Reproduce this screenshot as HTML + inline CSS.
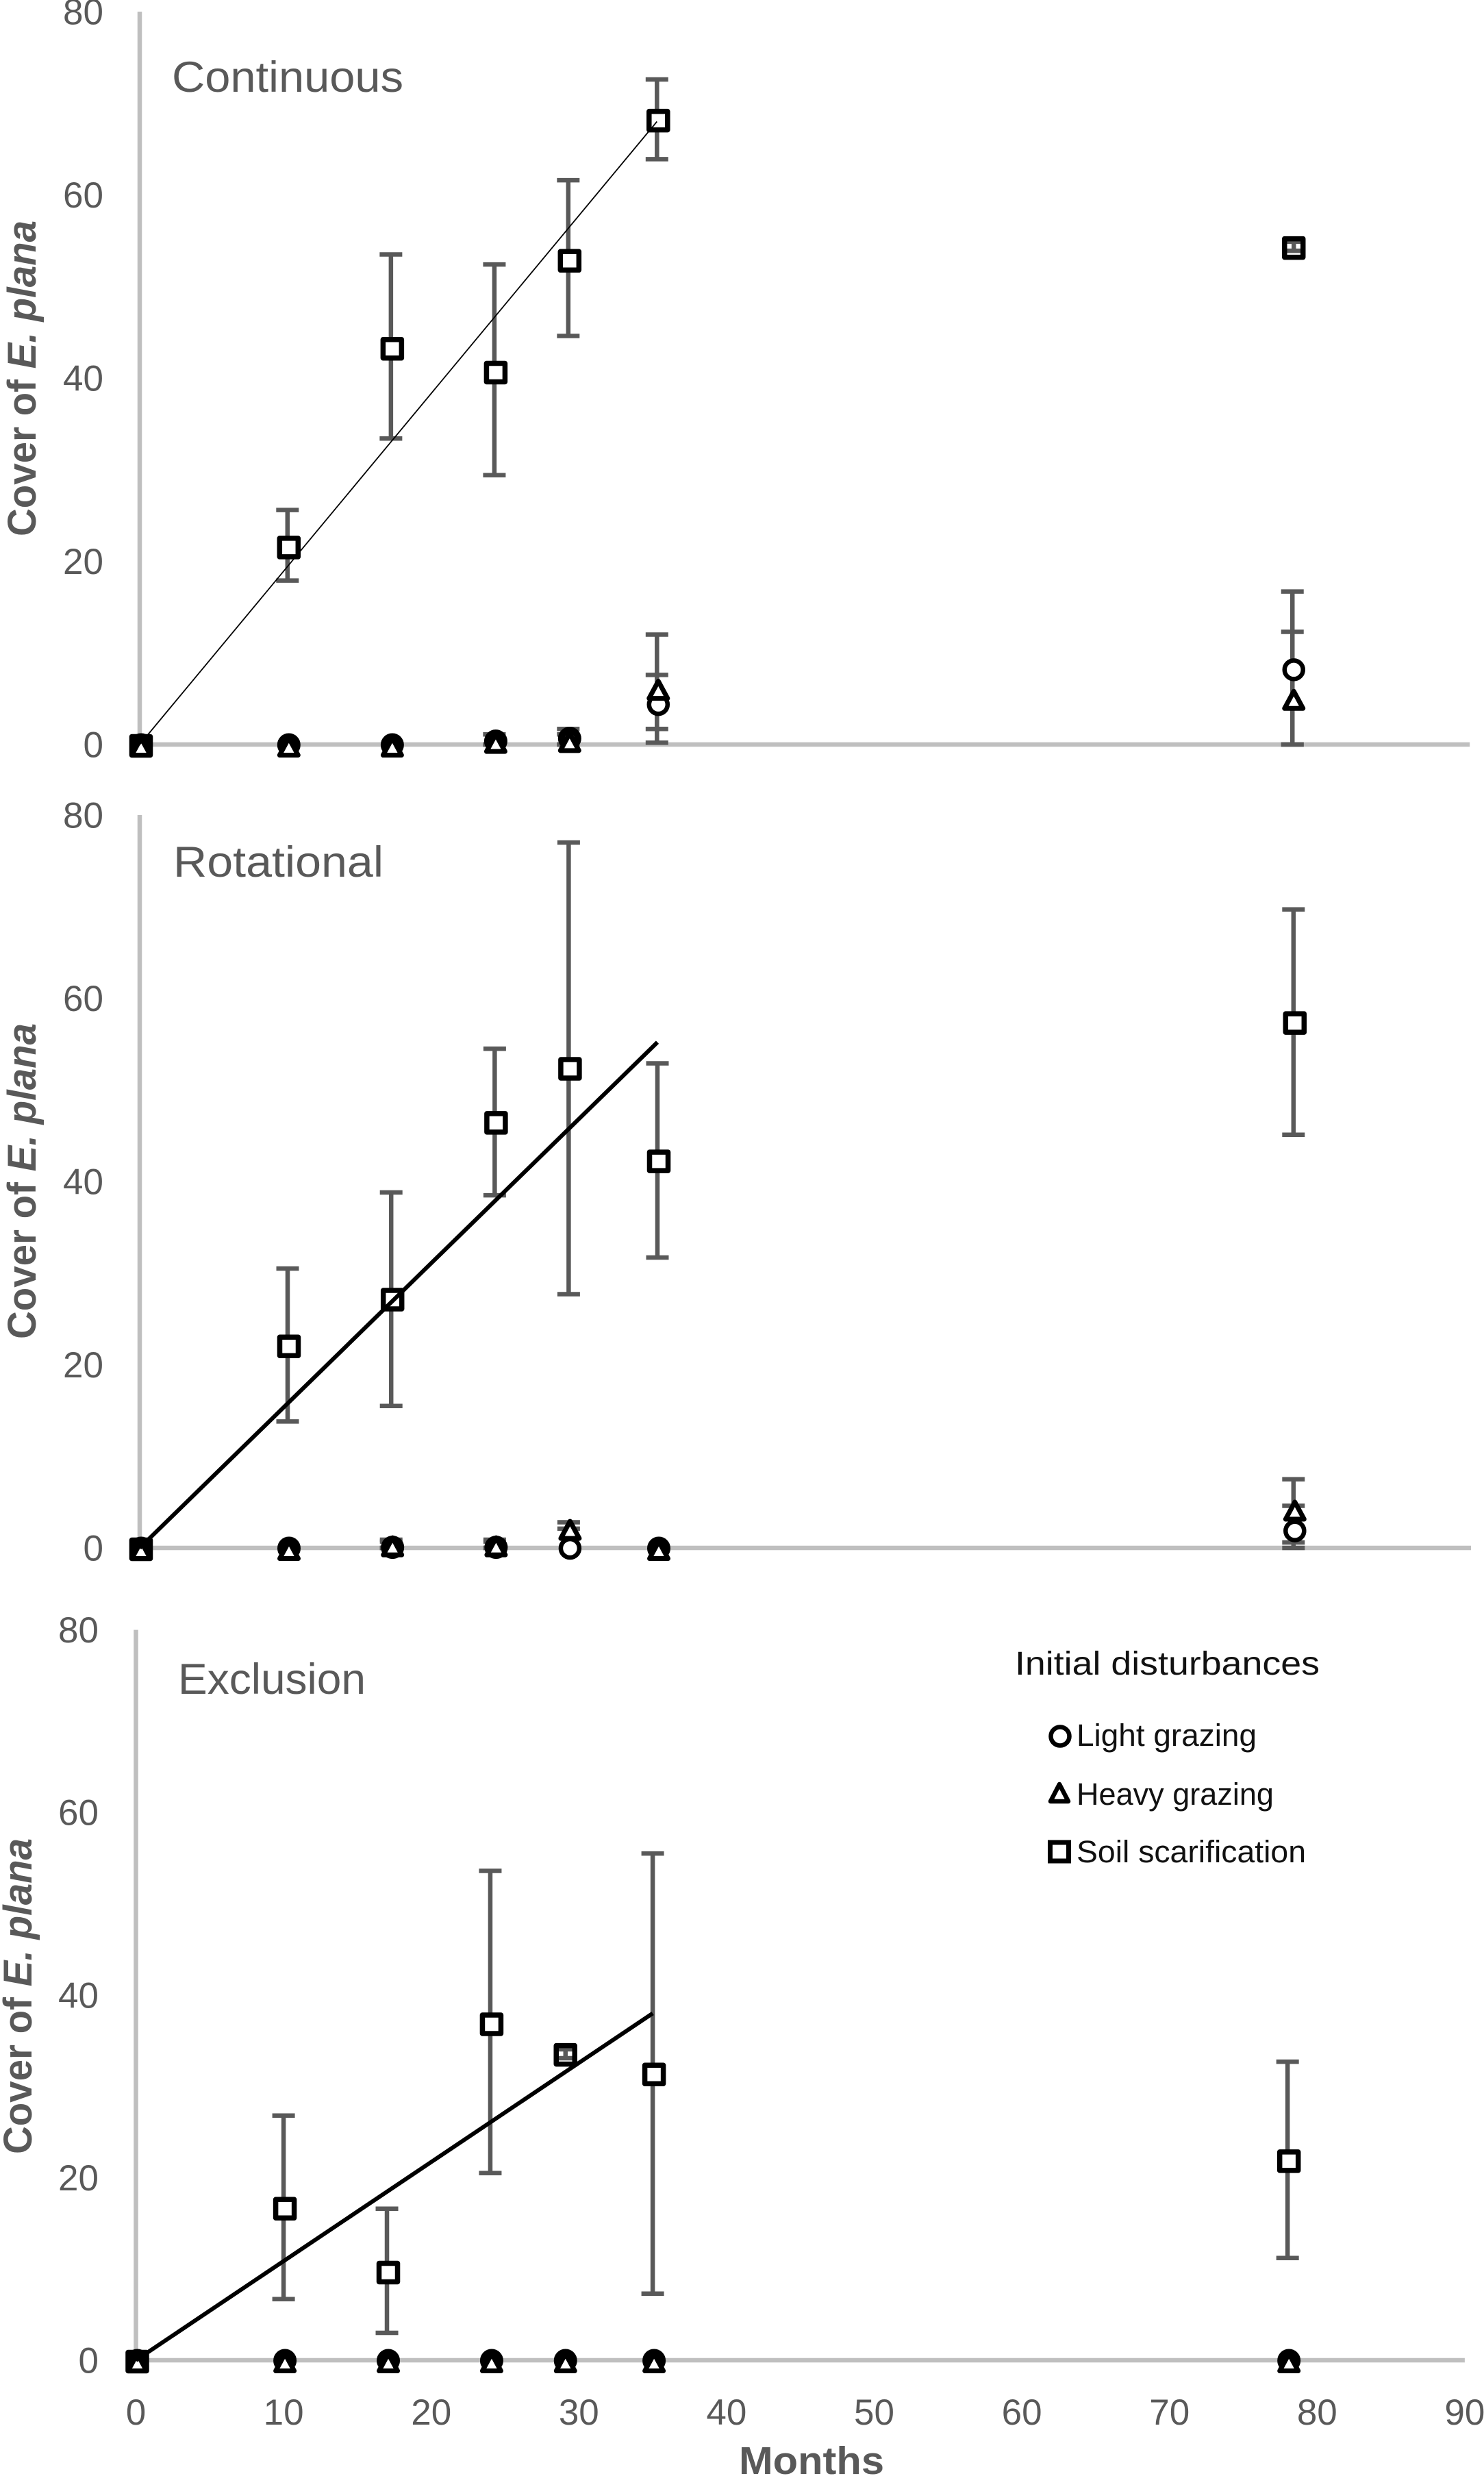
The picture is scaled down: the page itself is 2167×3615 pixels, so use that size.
<!DOCTYPE html>
<html lang="en">
<head>
<meta charset="utf-8">
<title>Cover of E. plana over time</title>
<style>
html,body{margin:0;padding:0;background:#fff;}
svg{display:block;}
text{font-family:"Liberation Sans",Arial,sans-serif;}
</style>
</head>
<body>
<svg id="chart" xmlns="http://www.w3.org/2000/svg" width="2167" height="3615" viewBox="0 0 2167 3615">
  <rect x="0" y="0" width="2167" height="3615" fill="#ffffff"/>

  <text x="251" y="134" font-size="63" fill="#595959" textLength="338" lengthAdjust="spacingAndGlyphs">Continuous</text>
  <text x="253" y="1280" font-size="63" fill="#595959" textLength="307" lengthAdjust="spacingAndGlyphs">Rotational</text>
  <text x="260" y="2473" font-size="63" fill="#595959" textLength="274" lengthAdjust="spacingAndGlyphs">Exclusion</text>

  <text transform="translate(52,783) rotate(-90)" font-size="58" font-weight="bold" fill="#595959" textLength="461" lengthAdjust="spacingAndGlyphs">Cover of <tspan font-style="italic">E. plana</tspan></text>
  <text transform="translate(52,1955) rotate(-90)" font-size="58" font-weight="bold" fill="#595959" textLength="461" lengthAdjust="spacingAndGlyphs">Cover of <tspan font-style="italic">E. plana</tspan></text>
  <text transform="translate(46,3145) rotate(-90)" font-size="58" font-weight="bold" fill="#595959" textLength="461" lengthAdjust="spacingAndGlyphs">Cover of <tspan font-style="italic">E. plana</tspan></text>

  <text x="1079" y="3612" font-size="57" font-weight="bold" fill="#595959" textLength="212" lengthAdjust="spacingAndGlyphs">Months</text>

  <g>
    <text x="1482" y="2445" font-size="48" fill="#111111" textLength="445" lengthAdjust="spacingAndGlyphs">Initial disturbances</text>
    <circle cx="1548" cy="2535" r="13.5" fill="#ffffff" stroke="#000000" stroke-width="6.5"/>
    <text x="1572" y="2549" font-size="45" fill="#111111" textLength="263" lengthAdjust="spacingAndGlyphs">Light grazing</text>
    <polygon points="1547,2605 1534,2630 1560,2630" fill="#ffffff" stroke="#000000" stroke-width="6.5" stroke-linejoin="round"/>
    <text x="1572" y="2635" font-size="45" fill="#111111" textLength="288" lengthAdjust="spacingAndGlyphs">Heavy grazing</text>
    <rect x="1533.5" y="2690" width="27" height="27" fill="#ffffff" stroke="#000000" stroke-width="7"/>
    <text x="1572" y="2719" font-size="45" fill="#111111" textLength="335" lengthAdjust="spacingAndGlyphs">Soil scarification</text>
  </g>
</svg>

<script>
// ---- shared axis data ----
const months = [0, 10, 17, 24, 29, 35, 78];
const yTickLabels = [0, 20, 40, 60, 80];
const xTickLabels = [0, 10, 20, 30, 40, 50, 60, 70, 80, 90];
const trendMonths = [0, 35];

// ---- Continuous panel ----
const contScarMean  = [0, 21.65, 43.35, 40.75, 52.95, 68.25, 54.35];
const contScarUpper = [0, 25.6, 53.5, 52.4, 61.6, 72.6, 54.9];
const contScarLower = [0, 17.9, 33.4, 29.4, 44.6, 63.9, 53.9];
const contLightMean  = [0, 0, 0, 0.4, 0.7, 4.4, 8.2];
const contLightUpper = [0, 0, 0, 1.1, 1.7, 7.6, 16.7];
const contLightLower = [0, 0, 0, 0, 0, 1.7, 0];
const contHeavyMean  = [0, 0, 0, 0.4, 0.5, 6.2, 5.1];
const contHeavyUpper = [0, 0, 0, 1.1, 1.1, 12, 12.3];
const contHeavyLower = [0, 0, 0, 0, 0, 0.2, 0];
const contTrend = [0, 68];

// ---- Rotational panel ----
const rotScarMean  = [0, 22.15, 27.25, 46.55, 52.45, 42.35, 57.45];
const rotScarUpper = [0, 30.5, 38.8, 54.5, 77, 52.9, 69.7];
const rotScarLower = [0, 13.8, 15.5, 38.5, 27.7, 31.7, 45.1];
const rotLightMean  = [0, 0, 0.1, 0.1, 0, 0, 1.9];
const rotLightUpper = [0, 0, 0.7, 0.7, 0, 0, 4.6];
const rotLightLower = [0, 0, 0, 0, 0, 0, 0];
const rotHeavyMean  = [0, 0, 0.4, 0.4, 2.2, 0, 4.3];
const rotHeavyUpper = [0, 0, 0.9, 0.9, 2.8, 0, 7.5];
const rotHeavyLower = [0, 0, 0, 0, 2.1, 0, 0.6];
const rotTrend = [0, 55.2];

// ---- Exclusion panel ----
const exclScarMean  = [0, 16.75, 9.75, 36.95, 33.6, 31.45, 21.95];
const exclScarUpper = [0, 26.8, 16.6, 53.6, 34.06, 55.5, 32.7];
const exclScarLower = [0, 6.7, 3.0, 20.5, 33.08, 7.3, 11.2];
const exclLightMean  = [0, 0, 0, 0, 0, 0, 0];
const exclLightUpper = [0, 0, 0, 0, 0, 0, 0];
const exclLightLower = [0, 0, 0, 0, 0, 0, 0];
const exclHeavyMean  = [0, 0, 0, 0, 0, 0, 0];
const exclHeavyUpper = [0, 0, 0, 0, 0, 0, 0];
const exclHeavyLower = [0, 0, 0, 0, 0, 0, 0];
const exclTrend = [0, 38];

const panels = [
  { key:'continuous', x0:204, xUnit:21.58, y0:1087, yUnit:13.375, tickRight:151, showX:false, trendWidth:1.8,
    scar:[contScarMean,contScarUpper,contScarLower], light:[contLightMean,contLightUpper,contLightLower],
    heavy:[contHeavyMean,contHeavyUpper,contHeavyLower], trend:contTrend },
  { key:'rotational', x0:204, xUnit:21.6, y0:2260, yUnit:13.375, tickRight:151, showX:false, trendWidth:6,
    scar:[rotScarMean,rotScarUpper,rotScarLower], light:[rotLightMean,rotLightUpper,rotLightLower],
    heavy:[rotHeavyMean,rotHeavyUpper,rotHeavyLower], trend:rotTrend },
  { key:'exclusion', x0:198.5, xUnit:21.56, y0:3446, yUnit:13.33, tickRight:144, showX:true, trendWidth:6,
    scar:[exclScarMean,exclScarUpper,exclScarLower], light:[exclLightMean,exclLightUpper,exclLightLower],
    heavy:[exclHeavyMean,exclHeavyUpper,exclHeavyLower], trend:exclTrend }
];

const SVG_NS = 'http://www.w3.org/2000/svg';
const chart = document.getElementById('chart');
const ERR = '#595959', AXIS = '#bfbfbf', TICK = '#595959';

function make(tag, parent, attrs) {
  const node = document.createElementNS(SVG_NS, tag);
  for (const k in attrs) node.setAttribute(k, attrs[k]);
  parent.appendChild(node);
  return node;
}

function drawErrorBar(parent, name, xPx, yUp, yLow) {
  const g = make('g', parent, {});
  
  
  const stem = make('line', g, { x1:xPx, x2:xPx, y1:yUp, y2:yLow, stroke:ERR, 'stroke-width':6.5 });
  
  
  const capTop = make('line', g, { x1:xPx-16.5, x2:xPx+16.5, y1:yUp, y2:yUp, stroke:ERR, 'stroke-width':6.5 });
  
  
  const capLow = make('line', g, { x1:xPx-16.5, x2:xPx+16.5, y1:yLow, y2:yLow, stroke:ERR, 'stroke-width':6.5 });
  
  
}

function drawPanel(p) {
  const X = function (v) { return p.x0 + v * p.xUnit; };
  const Y = function (v) { return p.y0 - v * p.yUnit; };
  const group = make('g', chart, {});
  
  

  // axes
  const yAxis = make('line', group, { x1:X(0), x2:X(0), y1:Y(80), y2:Y(0), stroke:AXIS, 'stroke-width':6.5 });
  
  
  const xAxis = make('line', group, { x1:X(0), x2:X(90), y1:Y(0), y2:Y(0), stroke:AXIS, 'stroke-width':6.5 });
  
  

  // tick labels
  yTickLabels.forEach(function (t) {
    const lab = make('text', group, { x:p.tickRight, y:Y(t)+18.5, 'text-anchor':'end', 'font-size':53, fill:TICK });
    lab.textContent = String(t);
    
    
  });
  if (p.showX) {
    xTickLabels.forEach(function (t) {
      const lab = make('text', group, { x:X(t), y:3540, 'text-anchor':'middle', 'font-size':53, fill:TICK });
      lab.textContent = String(t);
      
      
    });
  }

  // error bars behind the markers
  [['light', p.light], ['heavy', p.heavy], ['scarification', p.scar]].forEach(function (s) {
    const upper = s[1][1], lower = s[1][2];
    months.forEach(function (m, i) {
      if (upper[i] === lower[i]) return;
      if (s[0] === 'scarification' && (upper[i] - lower[i]) * p.yUnit < 30) return;
      drawErrorBar(group, 'error-bar-' + p.key + '-' + s[0] + '-' + m, X(m), Y(upper[i]), Y(lower[i]));
    });
  });

  // soil scarification squares
  months.forEach(function (m, i) {
    const cx = X(m) + 2, cy = Y(p.scar[0][i]) + 2;
    const fill = make('rect', group, { x:cx-13.5, y:cy-13.5, width:27, height:27, fill:'#ffffff' });
    
    
    if (p.scar[1][i] !== p.scar[2][i] && (p.scar[1][i] - p.scar[2][i]) * p.yUnit < 30) {
      drawErrorBar(group, 'error-bar-' + p.key + '-scarification-' + m, X(m) + 2, Y(p.scar[1][i]), Y(p.scar[2][i]));
    }
    const box = make('rect', group, { x:cx-13.5, y:cy-13.5, width:27, height:27, fill:'none', stroke:'#000000', 'stroke-width':7.5, 'stroke-linejoin':'round' });
    
    
  });

  // light grazing circles: overlapping markers read as a nearly solid blob in the source figure
  months.forEach(function (m, i) {
    const overlapping = Math.abs(p.light[0][i] - p.heavy[0][i]) < 0.6;
    const dot = make('circle', group, { cx:X(m)+2, cy:Y(p.light[0][i])+0.5, r:overlapping ? 12 : 13.5, fill:'#ffffff', stroke:'#000000', 'stroke-width':overlapping ? 10 : 6.5 });
    
    
  });

  // heavy grazing triangles
  months.forEach(function (m, i) {
    const cx = X(m) + 2, cy = Y(p.heavy[0][i]) + 3;
    const pts = [cx, cy-12.5, cx-13.5, cy+12.5, cx+13.5, cy+12.5].join(' ');
    const tri = make('polygon', group, { points:pts, fill:'#ffffff', stroke:'#000000', 'stroke-width':7, 'stroke-linejoin':'round' });
    
    
  });

  // linear trend
  const trend = make('line', group, { x1:X(trendMonths[0]), y1:Y(p.trend[0]), x2:X(trendMonths[1]), y2:Y(p.trend[1]), stroke:'#000000', 'stroke-width':p.trendWidth });
  
  
}

panels.forEach(drawPanel);
</script>
</body>
</html>
